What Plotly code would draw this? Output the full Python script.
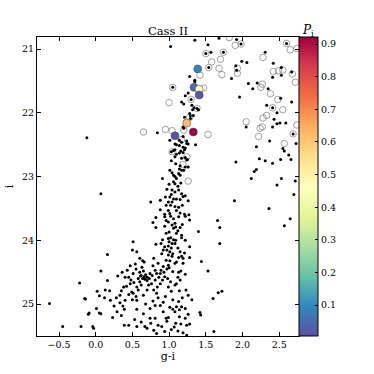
import plotly.graph_objects as go

# colour-magnitude diagram, Cass II field
# black dots: all stars in the field (g-i, i)
dots_top = [
    (1.02, 20.96), (1.35, 20.86), (1.53, 20.93), (1.68, 20.83), (1.92, 20.85), (1.98, 20.92),
    (1.50, 21.07), (1.57, 21.05), (1.74, 21.05), (2.31, 21.05), (1.99, 21.19), (2.06, 21.21),
    (1.91, 21.26), (1.92, 21.33), (1.85, 21.46), (1.54, 21.29), (1.28, 21.43), (2.42, 21.22),
    (2.53, 21.29), (2.41, 21.44), (2.53, 21.41), (2.60, 20.91), (2.67, 21.36), (1.35, 21.49),
    (2.08, 21.54), (2.14, 21.62), (2.20, 21.53), (2.35, 21.62), (1.96, 21.75), (2.52, 21.77),
    (2.67, 21.83), (2.33, 21.88), (2.41, 21.92), (2.47, 22.00), (2.43, 22.10), (2.47, 22.17),
    (2.41, 22.22), (2.51, 22.16), (2.59, 22.16), (2.05, 22.22), (1.22, 21.73), (1.20, 21.86),
    (1.31, 21.88), (1.32, 21.95), (1.34, 21.92), (1.40, 21.95), (1.33, 22.04), (1.29, 22.05),
    (1.19, 22.22), (1.30, 21.79), (1.38, 21.93), (1.05, 21.60), (2.69, 22.33), (1.26, 21.69),
    (1.17, 21.83), (1.21, 22.07), (1.28, 22.01), (1.29, 22.09), (1.20, 22.24), (0.84, 22.31),
    (-0.12, 22.39), (1.35, 21.51),
]
dots_mid = [
    (1.36, 22.50), (2.19, 22.53), (2.37, 22.44), (2.73, 22.48), (2.55, 22.56), (2.57, 22.60),
    (2.63, 22.66), (2.66, 22.73), (2.52, 22.73), (2.23, 22.72), (2.31, 22.75), (2.41, 22.79),
    (1.91, 22.77), (2.16, 22.92), (2.19, 22.89), (2.12, 23.03), (2.53, 23.03), (2.72, 23.07),
    (2.47, 23.13), (2.70, 23.28), (1.89, 23.38), (2.36, 23.50), (2.65, 23.66), (2.57, 23.77),
    (1.66, 23.69), (1.40, 23.86), (1.26, 23.38), (1.27, 23.60), (1.28, 23.68), (1.21, 23.59),
    (1.69, 23.80),
    (1.01, 22.43), (1.08, 22.49), (1.17, 22.46), (1.24, 22.44), (1.26, 22.49), (1.14, 22.51),
    (1.19, 22.54), (1.06, 22.59), (1.16, 22.60), (1.19, 22.62), (1.10, 22.65), (1.08, 22.69),
    (1.22, 22.70), (1.25, 22.73), (1.09, 22.80), (1.15, 22.83), (1.22, 22.85), (1.26, 22.85),
    (1.20, 22.90), (1.17, 22.90), (1.01, 22.90), (1.04, 22.94), (1.13, 22.95), (1.15, 22.98),
    (1.08, 23.00), (1.10, 23.03), (1.06, 23.08), (1.08, 23.11), (1.04, 23.21), (1.08, 23.24),
    (1.13, 23.21), (1.17, 23.27), (1.19, 23.31), (1.01, 23.32), (1.06, 23.35), (1.10, 23.35),
    (1.15, 23.36), (0.99, 23.40), (1.04, 23.40), (1.02, 23.45), (1.08, 23.47), (1.13, 23.48),
    (1.10, 23.53), (0.99, 23.53), (1.01, 23.58), (1.15, 23.57), (1.13, 23.63), (1.22, 23.62),
    (1.06, 23.66), (0.99, 23.71), (1.08, 23.73), (1.04, 23.76), (1.09, 23.79), (1.15, 23.80),
    (1.06, 23.81), (1.00, 23.87), (1.10, 23.89), (1.17, 23.92),
    (1.14, 22.43), (1.19, 22.37), (1.24, 22.48), (1.10, 22.50), (1.08, 22.58), (1.21, 22.58),
    (1.14, 22.63), (1.03, 22.61), (1.17, 22.71), (1.24, 22.74),
    (0.91, 23.03), (0.07, 23.27), (0.75, 23.40), (0.88, 23.37), (0.95, 23.32), (0.96, 23.45),
    (0.88, 23.52), (0.82, 23.64), (0.94, 23.59), (0.94, 23.63), (0.96, 23.69), (0.78, 23.72),
    (0.94, 23.78), (0.82, 23.80), (0.96, 23.89),
    (1.12, 23.85), (1.18, 23.75), (1.02, 23.62), (1.18, 23.45), (1.03, 23.28), (1.12, 23.15),
    (1.16, 23.10), (1.00, 23.12), (0.97, 23.20), (1.22, 23.30), (1.06, 22.98), (1.14, 22.88),
    (1.03, 22.75), (1.22, 22.55),
]
dots_low = [
    (0.51, 24.02), (0.16, 24.22), (0.07, 24.48), (-0.22, 24.67), (-0.15, 24.91), (-0.14, 24.92),
    (-0.63, 24.99), (-0.45, 25.35), (-0.20, 25.35), (-0.04, 25.35), (-0.03, 25.38), (-0.09, 25.14),
    (-0.10, 25.16), (0.01, 25.07), (0.05, 25.14), (0.07, 25.15), (0.05, 24.87), (0.02, 24.80),
    (0.13, 24.78), (0.16, 24.63), (0.19, 24.79), (0.20, 24.94), (0.25, 25.03), (0.29, 25.12),
    (0.30, 24.56), (0.36, 24.50), (0.37, 25.03), (0.39, 25.08), (0.40, 24.94), (0.35, 24.79),
    (0.33, 24.86), (0.38, 24.73), (0.42, 24.72), (0.47, 24.68), (0.45, 24.58), (0.48, 24.62),
    (0.51, 24.52), (0.54, 24.37), (0.50, 24.15), (0.56, 24.18), (0.60, 24.28), (0.64, 24.32),
    (0.66, 24.34), (0.63, 24.42), (0.65, 24.48), (0.61, 24.56), (0.58, 24.60), (0.60, 24.65),
    (0.67, 24.61), (0.70, 24.58), (0.74, 24.52), (0.56, 24.73), (0.58, 24.78), (0.49, 24.81),
    (0.51, 24.83), (0.55, 24.88), (0.50, 24.93), (0.56, 24.94), (0.65, 24.86), (0.70, 24.78),
    (0.72, 24.70), (0.76, 24.68), (0.81, 24.62), (0.79, 24.78), (0.83, 24.83), (0.84, 24.73),
    (0.88, 24.68), (0.91, 24.62), (0.94, 24.57), (0.89, 24.47), (0.92, 24.41), (0.85, 24.36),
    (0.79, 24.28), (0.78, 24.40), (0.81, 24.47), (0.83, 24.52), (0.90, 24.21), (0.92, 24.15),
    (0.94, 24.10), (0.89, 24.05), (0.82, 24.06), (0.91, 23.99), (0.96, 24.31), (0.88, 25.02),
    (0.81, 25.02), (0.74, 25.07), (0.92, 25.12), (0.96, 25.22), (0.85, 25.33), (0.90, 25.35),
    (0.79, 25.41), (0.83, 25.46), (0.70, 25.38), (0.67, 25.35), (0.56, 25.35), (0.53, 25.24),
    (0.45, 25.33), (0.39, 25.33), (0.23, 25.21), (0.56, 25.08), (0.65, 25.15), (0.74, 25.22),
    (0.81, 25.22), (0.94, 25.43),
    (0.99, 23.97), (1.02, 23.96), (1.06, 23.99), (1.00, 24.02), (1.04, 24.05), (1.08, 24.05),
    (0.99, 24.09), (1.09, 24.00), (1.17, 23.96), (1.22, 24.00), (1.28, 24.10), (1.01, 24.18),
    (1.05, 24.21), (0.99, 24.23), (1.04, 24.25), (1.13, 24.27), (1.17, 24.25), (1.19, 24.28),
    (1.28, 24.27), (1.10, 24.34), (1.08, 24.36), (1.01, 24.32), (0.99, 24.39), (1.19, 24.36),
    (1.05, 24.49), (1.13, 24.50), (1.16, 24.48), (1.22, 24.53), (1.15, 24.62), (1.10, 24.68),
    (1.08, 24.70), (0.99, 24.73), (1.14, 24.79), (1.26, 24.86), (1.31, 24.93), (1.05, 24.93),
    (1.13, 24.96), (1.17, 25.04), (1.10, 25.04), (1.01, 25.05), (1.05, 25.08), (1.08, 25.12),
    (1.14, 25.09), (1.22, 25.07), (1.26, 25.16), (0.99, 25.21), (1.14, 25.20), (1.22, 25.22),
    (1.09, 25.30), (1.07, 25.36), (1.16, 25.31), (1.24, 25.33), (1.28, 25.31), (1.19, 25.45),
    (1.24, 25.49), (1.69, 24.05), (1.44, 24.33), (1.53, 24.48), (1.67, 24.82), (1.72, 24.80),
    (1.60, 24.91), (1.42, 25.13), (1.43, 25.17), (1.61, 25.43),
    (0.62, 24.55), (0.66, 24.57), (0.68, 24.54), (0.64, 24.60), (0.70, 24.63), (0.73, 24.60),
    (0.77, 24.55), (0.60, 24.50), (0.55, 24.45), (0.47, 24.40), (0.43, 24.47), (0.40, 24.58),
    (0.52, 24.66), (0.62, 24.70), (0.86, 24.58), (0.88, 24.52), (0.93, 24.50), (0.97, 24.45),
    (1.00, 24.43), (0.85, 24.90), (0.95, 24.88), (0.92, 24.97), (0.78, 24.95), (0.68, 25.00),
    (0.33, 24.98), (0.28, 24.90), (0.12, 24.90), (0.45, 24.85), (0.35, 25.18), (0.62, 25.28),
    (0.75, 25.30), (0.97, 25.27), (1.03, 25.40), (1.12, 25.42), (0.98, 24.60), (1.02, 24.65),
    (1.12, 24.58), (1.03, 24.80), (1.18, 24.90), (1.23, 24.78), (0.97, 24.15), (1.03, 24.12),
    (1.12, 24.12), (1.15, 24.18), (1.21, 24.20),
]

# open grey circles: stars with no membership probability
field_circles = [
    (1.82, 20.82), (1.90, 20.94), (1.98, 20.92), (1.50, 21.07), (1.74, 21.05), (1.58, 21.20),
    (1.70, 21.16), (1.54, 21.29), (1.68, 21.30), (1.72, 21.40), (1.42, 21.41), (1.93, 21.30),
    (1.93, 21.38), (2.28, 21.13), (2.60, 20.91), (2.65, 21.01), (2.74, 20.99), (2.42, 21.35),
    (2.49, 21.34), (2.55, 21.33), (2.68, 21.39), (2.72, 21.52), (2.27, 21.55), (2.25, 21.60),
    (2.38, 21.70), (2.48, 21.79), (2.41, 21.92), (2.55, 21.95), (1.05, 21.60), (1.00, 21.84),
    (1.30, 21.79), (1.38, 21.93), (1.28, 22.07), (1.47, 21.61), (1.53, 22.34), (2.05, 22.14),
    (2.28, 22.08), (2.33, 22.04), (2.24, 22.24), (2.27, 22.22), (2.22, 22.37), (2.69, 22.33),
    (2.74, 22.19), (0.95, 22.26), (1.04, 22.28), (0.65, 22.30), (1.20, 22.27), (1.17, 22.42),
    (1.04, 22.61), (1.24, 22.69), (1.19, 22.81), (1.26, 23.07), (2.57, 22.48),
]

# coloured members, with membership probability P_i
member_gi = [1.39, 1.34, 1.41, 1.41, 1.24, 1.33, 1.08]
member_i = [21.31, 21.60, 21.63, 21.72, 22.16, 22.30, 22.36]
member_p = [0.09, 0.05, 0.45, 0.02, 0.62, 0.922, 0.005]

dots = dots_top + dots_mid + dots_low
font = 'DejaVu Serif'

fig = go.Figure()
fig.add_trace(go.Scatter(
    x=[p[0] for p in field_circles], y=[p[1] for p in field_circles],
    mode='markers',
    marker=dict(size=6.5, color='rgba(0,0,0,0)', line=dict(color='#888888', width=0.8)),
    hoverinfo='skip'))
fig.add_trace(go.Scatter(
    x=[p[0] for p in dots], y=[p[1] for p in dots],
    mode='markers',
    marker=dict(size=3, color='black'),
    hoverinfo='skip'))
fig.add_trace(go.Scatter(
    x=member_gi, y=member_i, mode='markers',
    marker=dict(size=8, color=member_p, colorscale='Spectral_r', cmin=0.005, cmax=0.922,
                line=dict(color='#555555', width=0.6),
                colorbar=dict(
                    x=1.0, xanchor='left', xpad=0, y=0.5, yanchor='middle', ypad=0,
                    len=1, lenmode='fraction', thickness=19,
                    outlinecolor='black', outlinewidth=1,
                    tickvals=[0.1, 0.2, 0.3, 0.4, 0.5, 0.6, 0.7, 0.8, 0.9],
                    ticks='inside', ticklen=3, tickcolor='black',
                    tickfont=dict(family=font, size=9.5, color='black'))),
    hoverinfo='skip'))

axis_common = dict(showline=True, linecolor='black', linewidth=1, mirror='allticks',
                   ticks='inside', ticklen=4, tickcolor='black', showgrid=False, zeroline=False,
                   automargin=False,
                   tickfont=dict(family=font, size=9.5, color='black'))
fig.update_layout(
    width=374, height=374,
    margin=dict(l=37, r=75, t=37, b=38, autoexpand=False),
    paper_bgcolor='white', plot_bgcolor='white',
    showlegend=False,
    title=dict(text='Cass II', x=0.5, xref='paper', xanchor='center', y=1, yref='paper',
               yanchor='bottom', pad=dict(b=2),
               font=dict(family=font, size=11.5, color='black')),
    xaxis=dict(range=[-0.8, 2.77], tickvals=[-0.5, 0, 0.5, 1.0, 1.5, 2.0, 2.5],
               ticktext=['\u22120.5', '0.0', '0.5', '1.0', '1.5', '2.0', '2.5'],
               title=dict(text='g-i', standoff=2, font=dict(family=font, size=11, color='black')),
               **axis_common),
    yaxis=dict(range=[25.5, 20.81], tickvals=[21, 22, 23, 24, 25],
               title=dict(text='i', standoff=6, font=dict(family=font, size=11, color='black')),
               **axis_common),
    annotations=[dict(text='<i>P</i><sub>i</sub>', xref='paper', yref='paper',
                      x=1.0, y=1.0, xshift=9, yshift=6, xanchor='center', yanchor='middle',
                      showarrow=False,
                      font=dict(family=font, size=12, color='black'))],
)

# drop the browser's default page margin so the figure sits at the window's corner
fig.write_html('out.html', config={'displayModeBar': False},
               post_script="document.body.style.margin='0';")
